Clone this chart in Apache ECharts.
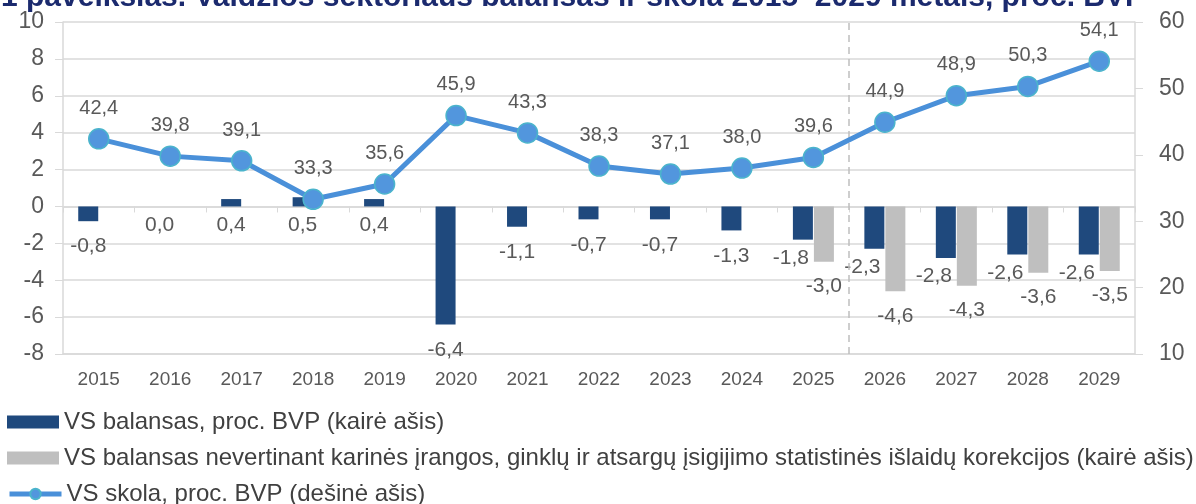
<!DOCTYPE html>
<html>
<head>
<meta charset="utf-8">
<script src="https://cdn.jsdelivr.net/npm/echarts@6/dist/echarts.min.js"></script>
<style>
  html, body { margin: 0; padding: 0; background: #fff; }
  #chart { width: 1196px; height: 504px; }
</style>
</head>
<body>
<div id="chart"></div>
<script>
// duomenys
const years = ["2015", "2016", "2017", "2018", "2019", "2020", "2021", "2022", "2023", "2024", "2025", "2026", "2027", "2028", "2029"];
const balance = [-0.8, 0.0, 0.4, 0.5, 0.4, -6.4, -1.1, -0.7, -0.7, -1.3, -1.8, -2.3, -2.8, -2.6, -2.6];
const balanceAdj = [null, null, null, null, null, null, null, null, null, null, -3.0, -4.6, -4.3, -3.6, -3.5];
const debt = [42.4, 39.8, 39.1, 33.3, 35.6, 45.9, 43.3, 38.3, 37.1, 38.0, 39.6, 44.9, 48.9, 50.3, 54.1];
const forecastStart = 11; // nuo 2026 prognozė

const names = [
  "VS balansas, proc. BVP (kairė ašis)",
  "VS balansas nevertinant karinės įrangos, ginklų ir atsargų įsigijimo statistinės išlaidų korekcijos (kairė ašis)",
  "VS skola, proc. BVP (dešinė ašis)"
];

const fmt = (p) => p.value == null ? "" : Number(p.value).toFixed(1).replace(".", ",");
const font = "Liberation Sans";
const txt = "#595959";
const gridCol = "#d9d9d9";

// tamsių stulpelių etiketės: kur yra pilkas stulpelis, etiketė pasislenka į kairę
const balanceData = balance.map((v, i) => {
  if (balanceAdj[i] != null) {
    return { value: v, label: { distance: 8, offset: [-12, 0] } };
  }
  return { value: v, label: { distance: v < 0 ? 15 : 8 } };
});

function legendItem(name, top, icon) {
  return {
    data: [{ name: name, icon: icon }],
    left: 7,
    top: top,
    padding: 0,
    itemWidth: 52,
    itemHeight: 13,
    itemGap: 0,
    lineStyle: { width: 5 },
    textStyle: { fontFamily: font, fontSize: 24, color: "#404040", lineHeight: 26 }
  };
}

let myChart = echarts.init(document.getElementById("chart"));

let option = {
  animation: false,
  textStyle: { fontFamily: font },
  title: {
    text: "1 paveikslas. Valdžios sektoriaus balansas ir skola 2015–2029 metais, proc. BVP",
    left: -4,
    top: -22,
    textStyle: { fontFamily: font, fontSize: 30, fontWeight: "bold", color: "#1b2a6e" }
  },
  grid: { left: 63, right: 61, top: 22, bottom: 150 },
  legend: [
    legendItem(names[0], 409, "rect"),
    legendItem(names[1], 445, "rect"),
    legendItem(names[2], 481, undefined)
  ],
  xAxis: [
    {
      type: "category",
      data: years,
      axisLine: { onZero: false, lineStyle: { color: gridCol, width: 1.5 } },
      axisTick: { show: false },
      axisLabel: { color: txt, fontSize: 19, margin: 16 }
    },
    {
      type: "category",
      data: years,
      position: "bottom",
      axisLine: { onZero: true, lineStyle: { color: gridCol, width: 1.5 } },
      axisTick: { show: true, length: 6, lineStyle: { color: gridCol } },
      axisLabel: { show: false }
    },
    { type: "value", min: -0.5, max: 14.5, show: false }
  ],
  yAxis: [
    {
      type: "value",
      min: -8, max: 10, interval: 2,
      axisLine: { show: true, onZero: false, lineStyle: { color: gridCol, width: 1.5 } },
      axisTick: { show: true, length: 8, lineStyle: { color: gridCol } },
      axisLabel: { color: txt, fontSize: 23, margin: 19 },
      splitLine: { lineStyle: { color: gridCol, width: 1.5 } }
    },
    {
      type: "value",
      min: 10, max: 60, interval: 10,
      position: "right",
      axisLine: { show: true, onZero: false, lineStyle: { color: gridCol, width: 1.5 } },
      axisTick: { show: true, length: 8, lineStyle: { color: gridCol } },
      axisLabel: { color: txt, fontSize: 23, margin: 24 },
      splitLine: { show: false }
    }
  ],
  series: [
    {
      name: names[0],
      type: "bar",
      data: balanceData,
      barWidth: 20,
      barGap: "5%",
      itemStyle: { color: "#1f497d" },
      label: { show: true, position: "bottom", formatter: fmt, color: txt, fontSize: 21 }
    },
    {
      name: names[1],
      type: "bar",
      data: balanceAdj,
      barWidth: 20,
      barGap: "5%",
      itemStyle: { color: "#bfbfbf" },
      label: { show: true, position: "bottom", distance: 14, formatter: fmt, color: txt, fontSize: 21 }
    },
    {
      name: names[2],
      type: "line",
      yAxisIndex: 1,
      data: debt,
      symbol: "circle",
      symbolSize: 20,
      z: 5,
      lineStyle: { color: "#4a90d9", width: 5 },
      itemStyle: { color: "#5296dd", borderColor: "#4bb4cc", borderWidth: 1.5 },
      label: { show: true, position: "top", distance: 10, formatter: fmt, color: txt, fontSize: 20 }
    },
    {
      // prognozės riba
      name: "riba",
      type: "line",
      xAxisIndex: 2,
      data: [],
      markLine: {
        silent: true,
        symbol: "none",
        label: { show: false },
        lineStyle: { color: "#bfbfbf", type: [7, 5], width: 1.5 },
        data: [{ xAxis: forecastStart - 0.5 }]
      }
    }
  ]
};

myChart.setOption(option);
</script>
</body>
</html>
